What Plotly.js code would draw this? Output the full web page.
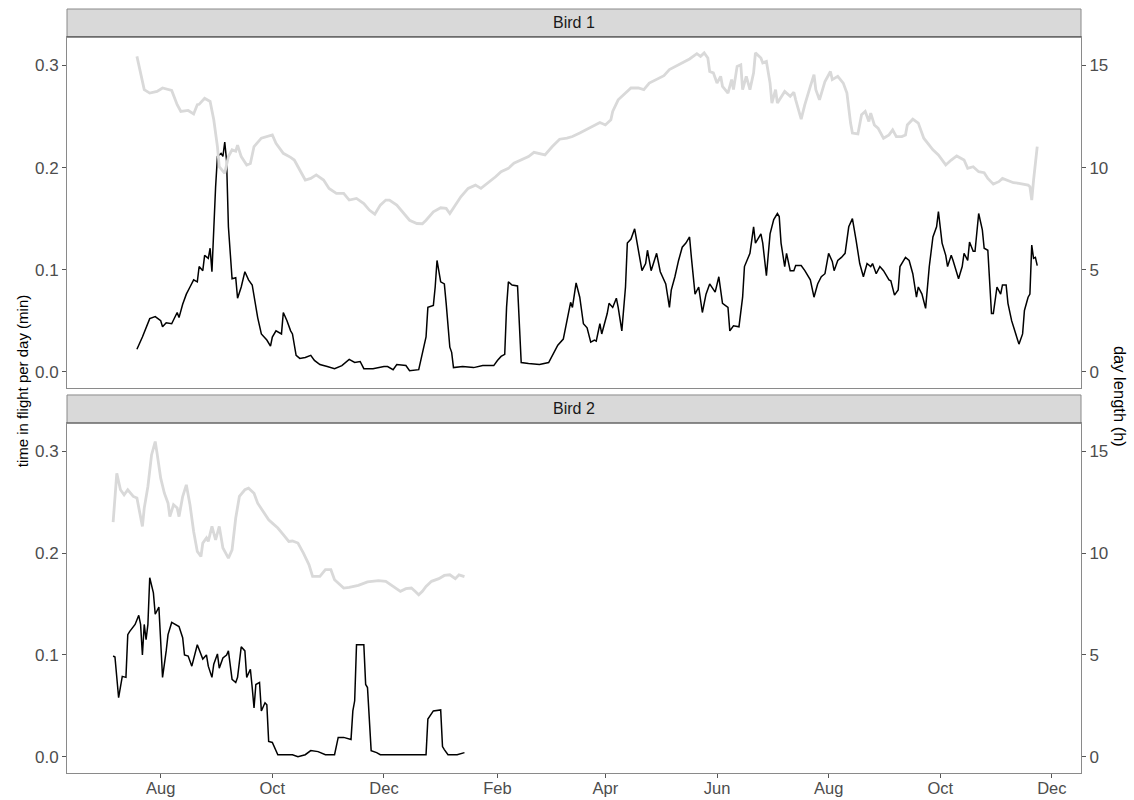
<!DOCTYPE html>
<html>
<head>
<meta charset="utf-8">
<script src="https://cdn.plot.ly/plotly-3.0.1.min.js"></script>
<style>html,body{margin:0;padding:0;background:#fff;}#chart{width:1134px;height:800px;}</style>
</head>
<body>
<div id="chart"></div>
<script>
// ---------- DATA ----------
const panelLabels = ["Bird 1", "Bird 2"];
const leftTitle = "time in flight per day (min)";
const rightTitle = "day length (h)";
const leftTicks = [0, 0.1, 0.2, 0.3];
const rightTicks = [0, 5, 10, 15];

// Bird 1 – time in flight per day (min)
const bird1FlightDates = ["2018-07-19","2018-07-22","2018-07-26","2018-07-29","2018-08-01","2018-08-02","2018-08-04","2018-08-07","2018-08-10","2018-08-11","2018-08-13","2018-08-15","2018-08-17","2018-08-19","2018-08-21","2018-08-22","2018-08-24","2018-08-25","2018-08-27","2018-08-28","2018-08-29","2018-08-30","2018-08-31","2018-09-01","2018-09-03","2018-09-04","2018-09-05","2018-09-06","2018-09-07","2018-09-09","2018-09-11","2018-09-12","2018-09-14","2018-09-16","2018-09-18","2018-09-20","2018-09-21","2018-09-23","2018-09-25","2018-09-28","2018-09-30","2018-10-01","2018-10-03","2018-10-06","2018-10-07","2018-10-09","2018-10-11","2018-10-12","2018-10-14","2018-10-16","2018-10-19","2018-10-22","2018-10-24","2018-10-27","2018-10-31","2018-11-04","2018-11-08","2018-11-12","2018-11-15","2018-11-18","2018-11-20","2018-11-25","2018-12-01","2018-12-03","2018-12-06","2018-12-08","2018-12-13","2018-12-15","2018-12-20","2018-12-22","2018-12-24","2018-12-25","2018-12-28","2018-12-29","2018-12-30","2019-01-01","2019-01-03","2019-01-04","2019-01-06","2019-01-07","2019-01-08","2019-01-13","2019-01-19","2019-01-24","2019-01-30","2019-02-01","2019-02-03","2019-02-05","2019-02-06","2019-02-07","2019-02-09","2019-02-12","2019-02-13","2019-02-14","2019-02-18","2019-02-24","2019-03-01","2019-03-03","2019-03-06","2019-03-09","2019-03-11","2019-03-13","2019-03-14","2019-03-16","2019-03-18","2019-03-20","2019-03-22","2019-03-24","2019-03-26","2019-03-27","2019-03-29","2019-03-30","2019-04-02","2019-04-03","2019-04-05","2019-04-07","2019-04-08","2019-04-10","2019-04-12","2019-04-13","2019-04-15","2019-04-17","2019-04-21","2019-04-23","2019-04-24","2019-04-26","2019-04-29","2019-05-01","2019-05-04","2019-05-06","2019-05-07","2019-05-09","2019-05-11","2019-05-13","2019-05-15","2019-05-17","2019-05-18","2019-05-20","2019-05-22","2019-05-24","2019-05-26","2019-05-28","2019-05-31","2019-06-02","2019-06-04","2019-06-07","2019-06-08","2019-06-10","2019-06-13","2019-06-15","2019-06-16","2019-06-19","2019-06-21","2019-06-22","2019-06-25","2019-06-26","2019-06-28","2019-06-30","2019-07-02","2019-07-04","2019-07-05","2019-07-06","2019-07-08","2019-07-09","2019-07-11","2019-07-13","2019-07-14","2019-07-17","2019-07-19","2019-07-22","2019-07-24","2019-07-26","2019-07-28","2019-07-30","2019-08-01","2019-08-03","2019-08-04","2019-08-06","2019-08-08","2019-08-10","2019-08-12","2019-08-14","2019-08-16","2019-08-18","2019-08-20","2019-08-22","2019-08-24","2019-08-25","2019-08-27","2019-08-29","2019-08-31","2019-09-03","2019-09-04","2019-09-06","2019-09-08","2019-09-09","2019-09-12","2019-09-14","2019-09-16","2019-09-18","2019-09-19","2019-09-21","2019-09-23","2019-09-25","2019-09-27","2019-09-29","2019-09-30","2019-10-02","2019-10-04","2019-10-05","2019-10-07","2019-10-08","2019-10-11","2019-10-13","2019-10-14","2019-10-16","2019-10-17","2019-10-19","2019-10-20","2019-10-22","2019-10-24","2019-10-25","2019-10-27","2019-10-29","2019-10-30","2019-11-01","2019-11-03","2019-11-04","2019-11-06","2019-11-07","2019-11-09","2019-11-11","2019-11-13","2019-11-15","2019-11-16","2019-11-18","2019-11-19","2019-11-20","2019-11-21","2019-11-22","2019-11-23"];
const bird1Flight = [0.022,0.034,0.052,0.054,0.050,0.044,0.048,0.047,0.058,0.053,0.066,0.076,0.083,0.090,0.088,0.103,0.099,0.114,0.111,0.121,0.098,0.148,0.181,0.211,0.214,0.211,0.225,0.207,0.142,0.091,0.092,0.072,0.083,0.098,0.090,0.085,0.073,0.053,0.037,0.031,0.025,0.034,0.040,0.037,0.058,0.050,0.040,0.037,0.016,0.013,0.014,0.016,0.011,0.007,0.005,0.003,0.006,0.012,0.009,0.010,0.003,0.003,0.005,0.005,0.002,0.007,0.006,0.001,0.002,0.017,0.034,0.063,0.065,0.083,0.109,0.088,0.086,0.067,0.024,0.019,0.004,0.005,0.004,0.006,0.006,0.011,0.015,0.017,0.063,0.088,0.085,0.084,0.047,0.009,0.008,0.007,0.009,0.016,0.026,0.032,0.050,0.068,0.063,0.087,0.073,0.047,0.043,0.029,0.031,0.030,0.047,0.037,0.057,0.067,0.063,0.072,0.063,0.040,0.083,0.126,0.130,0.140,0.099,0.106,0.119,0.099,0.116,0.098,0.086,0.063,0.080,0.093,0.109,0.122,0.126,0.132,0.112,0.076,0.083,0.058,0.076,0.086,0.078,0.093,0.067,0.063,0.040,0.045,0.044,0.073,0.103,0.116,0.142,0.126,0.135,0.126,0.094,0.135,0.149,0.155,0.152,0.126,0.103,0.116,0.099,0.099,0.104,0.104,0.099,0.090,0.073,0.086,0.093,0.096,0.116,0.108,0.099,0.109,0.112,0.116,0.142,0.150,0.129,0.106,0.093,0.106,0.103,0.106,0.096,0.103,0.099,0.090,0.089,0.075,0.080,0.103,0.112,0.109,0.096,0.073,0.083,0.076,0.062,0.103,0.132,0.142,0.157,0.126,0.114,0.103,0.114,0.109,0.091,0.103,0.116,0.109,0.127,0.118,0.118,0.155,0.139,0.121,0.119,0.057,0.057,0.083,0.076,0.085,0.085,0.067,0.050,0.039,0.027,0.037,0.060,0.073,0.076,0.124,0.111,0.112,0.104];

// Bird 1 – day length (h)
const bird1DayDates = ["2018-07-19","2018-07-23","2018-07-26","2018-07-30","2018-08-02","2018-08-07","2018-08-10","2018-08-12","2018-08-16","2018-08-19","2018-08-21","2018-08-22","2018-08-25","2018-08-28","2018-08-30","2018-09-01","2018-09-02","2018-09-05","2018-09-07","2018-09-09","2018-09-11","2018-09-12","2018-09-14","2018-09-17","2018-09-19","2018-09-21","2018-09-25","2018-09-28","2018-10-01","2018-10-03","2018-10-07","2018-10-11","2018-10-13","2018-10-16","2018-10-19","2018-10-22","2018-10-25","2018-10-29","2018-11-01","2018-11-05","2018-11-09","2018-11-12","2018-11-16","2018-11-20","2018-11-23","2018-11-26","2018-11-29","2018-12-02","2018-12-04","2018-12-08","2018-12-11","2018-12-15","2018-12-19","2018-12-22","2018-12-24","2018-12-28","2019-01-01","2019-01-04","2019-01-06","2019-01-09","2019-01-12","2019-01-16","2019-01-20","2019-01-23","2019-01-27","2019-01-31","2019-02-03","2019-02-07","2019-02-10","2019-02-14","2019-02-18","2019-02-21","2019-02-24","2019-02-27","2019-03-03","2019-03-07","2019-03-11","2019-03-14","2019-03-18","2019-03-22","2019-03-25","2019-03-29","2019-04-01","2019-04-04","2019-04-05","2019-04-08","2019-04-12","2019-04-15","2019-04-19","2019-04-22","2019-04-25","2019-04-29","2019-05-03","2019-05-06","2019-05-10","2019-05-14","2019-05-17","2019-05-21","2019-05-23","2019-05-25","2019-05-27","2019-05-28","2019-05-30","2019-06-01","2019-06-03","2019-06-04","2019-06-07","2019-06-09","2019-06-10","2019-06-12","2019-06-14","2019-06-15","2019-06-17","2019-06-19","2019-06-21","2019-06-22","2019-06-25","2019-06-26","2019-06-28","2019-06-30","2019-07-01","2019-07-03","2019-07-04","2019-07-08","2019-07-11","2019-07-13","2019-07-14","2019-07-17","2019-07-19","2019-07-22","2019-07-24","2019-07-25","2019-07-27","2019-07-30","2019-08-02","2019-08-03","2019-08-06","2019-08-09","2019-08-11","2019-08-13","2019-08-14","2019-08-17","2019-08-19","2019-08-21","2019-08-23","2019-08-24","2019-08-26","2019-08-28","2019-08-31","2019-09-03","2019-09-05","2019-09-07","2019-09-10","2019-09-12","2019-09-13","2019-09-16","2019-09-19","2019-09-22","2019-09-24","2019-09-27","2019-09-30","2019-10-04","2019-10-07","2019-10-10","2019-10-14","2019-10-16","2019-10-19","2019-10-22","2019-10-25","2019-10-27","2019-10-30","2019-11-02","2019-11-04","2019-11-07","2019-11-10","2019-11-13","2019-11-15","2019-11-18","2019-11-19","2019-11-20","2019-11-21","2019-11-22","2019-11-23"];
const bird1DayLength = [15.45,13.82,13.65,13.73,13.90,13.78,13.08,12.75,12.80,12.63,13.08,13.10,13.40,13.24,12.34,11.03,10.04,9.72,10.54,10.87,10.80,11.10,10.54,10.13,10.20,11.03,11.44,11.52,11.60,11.19,10.70,10.50,10.37,9.88,9.39,9.47,9.64,9.39,8.98,8.74,8.74,8.41,8.49,8.24,7.92,7.72,8.16,8.41,8.41,8.16,7.83,7.42,7.26,7.25,7.42,7.83,8.03,8.00,7.75,8.16,8.57,8.98,9.14,8.98,9.26,9.55,9.80,9.96,10.21,10.37,10.54,10.75,10.70,10.62,11.03,11.39,11.44,11.52,11.69,11.88,12.05,12.21,12.09,12.34,12.75,13.32,13.65,13.90,13.90,13.82,14.14,14.34,14.50,14.80,15.00,15.16,15.32,15.58,15.45,15.62,15.37,14.71,14.64,14.14,14.47,13.98,13.65,14.31,13.82,14.96,15.04,13.82,14.47,13.82,14.64,15.62,15.37,15.13,15.20,14.14,13.16,13.82,13.16,13.73,13.49,13.69,13.32,12.37,13.08,13.98,14.55,13.82,13.32,14.22,14.71,14.31,14.47,14.14,13.65,12.18,11.69,11.65,12.59,12.75,12.26,12.67,12.09,11.93,11.44,11.60,11.85,11.52,11.52,11.60,12.09,12.37,12.18,11.44,11.19,10.87,10.62,10.13,10.37,10.57,10.37,9.96,10.04,9.80,9.75,9.47,9.19,9.31,9.47,9.36,9.26,9.23,9.19,9.14,9.06,8.41,9.39,10.37,11.03];

// Bird 2 – time in flight per day (min)
const bird2FlightDates = ["2018-07-06","2018-07-07","2018-07-09","2018-07-10","2018-07-11","2018-07-13","2018-07-14","2018-07-15","2018-07-18","2018-07-20","2018-07-21","2018-07-22","2018-07-23","2018-07-24","2018-07-25","2018-07-26","2018-07-28","2018-07-29","2018-07-31","2018-08-01","2018-08-02","2018-08-04","2018-08-05","2018-08-07","2018-08-09","2018-08-11","2018-08-13","2018-08-14","2018-08-16","2018-08-18","2018-08-21","2018-08-22","2018-08-24","2018-08-26","2018-08-27","2018-08-29","2018-08-30","2018-09-01","2018-09-02","2018-09-04","2018-09-06","2018-09-07","2018-09-09","2018-09-11","2018-09-12","2018-09-14","2018-09-16","2018-09-17","2018-09-19","2018-09-20","2018-09-21","2018-09-22","2018-09-24","2018-09-25","2018-09-27","2018-09-28","2018-09-29","2018-10-01","2018-10-02","2018-10-04","2018-10-08","2018-10-12","2018-10-15","2018-10-19","2018-10-22","2018-10-26","2018-10-30","2018-11-04","2018-11-06","2018-11-09","2018-11-13","2018-11-14","2018-11-15","2018-11-16","2018-11-20","2018-11-21","2018-11-22","2018-11-24","2018-11-27","2018-11-29","2018-12-12","2018-12-24","2018-12-25","2018-12-28","2019-01-01","2019-01-02","2019-01-03","2019-01-05","2019-01-10","2019-01-14"];
const bird2Flight = [0.099,0.098,0.058,0.068,0.079,0.078,0.120,0.123,0.130,0.139,0.130,0.100,0.130,0.115,0.130,0.176,0.161,0.140,0.147,0.113,0.078,0.104,0.120,0.132,0.130,0.128,0.117,0.100,0.099,0.089,0.110,0.105,0.096,0.100,0.089,0.078,0.091,0.101,0.087,0.097,0.100,0.104,0.076,0.073,0.078,0.108,0.104,0.078,0.086,0.068,0.048,0.071,0.073,0.045,0.053,0.051,0.015,0.014,0.010,0.002,0.002,0.002,0.000,0.002,0.006,0.005,0.002,0.002,0.019,0.019,0.017,0.045,0.055,0.110,0.110,0.071,0.068,0.006,0.004,0.002,0.002,0.002,0.037,0.045,0.046,0.010,0.007,0.002,0.002,0.004];

// Bird 2 – day length (h)
const bird2DayDates = ["2018-07-06","2018-07-08","2018-07-10","2018-07-12","2018-07-14","2018-07-17","2018-07-19","2018-07-22","2018-07-23","2018-07-25","2018-07-27","2018-07-29","2018-07-30","2018-08-01","2018-08-03","2018-08-05","2018-08-06","2018-08-08","2018-08-10","2018-08-11","2018-08-13","2018-08-15","2018-08-17","2018-08-19","2018-08-21","2018-08-23","2018-08-24","2018-08-26","2018-08-27","2018-08-29","2018-08-31","2018-09-02","2018-09-04","2018-09-07","2018-09-09","2018-09-11","2018-09-13","2018-09-16","2018-09-18","2018-09-21","2018-09-23","2018-09-26","2018-09-29","2018-10-01","2018-10-04","2018-10-07","2018-10-10","2018-10-12","2018-10-15","2018-10-18","2018-10-21","2018-10-23","2018-10-27","2018-10-30","2018-11-02","2018-11-04","2018-11-07","2018-11-09","2018-11-12","2018-11-17","2018-11-22","2018-11-28","2018-12-02","2018-12-06","2018-12-10","2018-12-13","2018-12-16","2018-12-18","2018-12-20","2018-12-22","2018-12-24","2018-12-27","2018-12-31","2019-01-03","2019-01-06","2019-01-09","2019-01-11","2019-01-14"];
const bird2DayLength = [11.53,13.93,13.12,12.87,13.12,12.79,12.71,11.32,12.22,13.28,14.83,15.49,14.92,13.69,12.95,12.46,11.80,12.38,12.22,11.80,12.79,13.36,12.38,11.07,10.09,9.84,10.50,10.75,10.58,11.32,10.66,11.32,10.26,9.76,10.17,11.73,12.79,13.12,13.20,12.95,12.46,12.05,11.64,11.48,11.24,10.91,10.58,10.60,10.50,10.01,9.44,8.86,8.86,9.19,9.19,8.70,8.45,8.29,8.32,8.42,8.59,8.65,8.62,8.37,8.13,8.26,8.29,8.13,7.96,8.13,8.37,8.62,8.75,8.91,8.94,8.75,8.94,8.85];

// ---------- STYLE ----------
const FONT = "Liberation Sans, Arial, Helvetica, sans-serif";
const flightColor = "#000000";
const dayColor = "#d9d9d9";
const axisGrey = "#4d4d4d";
const borderGrey = "#8a8a8a";
const stripFill = "#d9d9d9";

const leftRange = [-0.016, 0.328];
const scaleFactor = 50; // day length (h) = 50 x time units
const rightRange = [leftRange[0] * scaleFactor, leftRange[1] * scaleFactor];
const xRange = ["2018-06-10 19:00", "2019-12-16 22:00"];

// paper domains
const dom1 = [0.5039, 0.9634]; // Bird 1 panel
const dom2 = [0.0, 0.4581];    // Bird 2 panel
const strip1 = [0.9634, 1.0];
const strip2 = [0.4581, 0.4948];

const traces = [
  {x: bird1DayDates, y: bird1DayLength, xaxis: "x2", yaxis: "y3", mode: "lines",
   line: {color: dayColor, width: 2.8}, hoverinfo: "skip", showlegend: false},
  {x: bird1FlightDates, y: bird1Flight, xaxis: "x2", yaxis: "y2", mode: "lines",
   line: {color: flightColor, width: 1.5}, showlegend: false},
  {x: bird2DayDates, y: bird2DayLength, xaxis: "x", yaxis: "y4", mode: "lines",
   line: {color: dayColor, width: 2.8}, hoverinfo: "skip", showlegend: false},
  {x: bird2FlightDates, y: bird2Flight, xaxis: "x", yaxis: "y", mode: "lines",
   line: {color: flightColor, width: 1.5}, showlegend: false}
];

const tickFont = {family: FONT, size: 17, color: axisGrey};
const xTickFont = {family: FONT, size: 16.5, color: axisGrey};

function leftAxis(domain) {
  return {domain: domain, range: leftRange, tickvals: leftTicks, tickformat: ".1f",
    ticks: "outside", ticklen: 4, tickcolor: "#555", tickwidth: 1,
    showgrid: false, zeroline: false, showline: true, mirror: true,
    linecolor: borderGrey, linewidth: 1, tickfont: tickFont, fixedrange: true};
}
function rightAxis(overlay, anchor) {
  return {overlaying: overlay, anchor: anchor, side: "right", range: rightRange,
    tickvals: rightTicks, ticks: "outside", ticklen: 4, tickcolor: "#555", tickwidth: 1,
    showgrid: false, zeroline: false, showline: false, tickfont: tickFont, fixedrange: true};
}

const layout = {
  width: 1134, height: 800,
  margin: {l: 67, r: 53, t: 9, b: 27},
  paper_bgcolor: "#ffffff", plot_bgcolor: "#ffffff",
  font: {family: FONT},
  showlegend: false,
  xaxis: {anchor: "y", range: xRange, type: "date", tick0: "2018-08-01", dtick: "M2",
    tickformat: "%b", ticks: "outside", ticklen: 4, tickcolor: "#555",
    ticklabelstandoff: -4,
    showgrid: false, zeroline: false, showline: true, mirror: true,
    linecolor: borderGrey, linewidth: 1, tickfont: xTickFont, fixedrange: true},
  xaxis2: {anchor: "y2", matches: "x", range: xRange, type: "date",
    showticklabels: false, ticks: "", showgrid: false, zeroline: false,
    showline: true, mirror: true, linecolor: borderGrey, linewidth: 1, fixedrange: true},
  yaxis: leftAxis(dom2),
  yaxis2: leftAxis(dom1),
  yaxis3: rightAxis("y2", "x2"),
  yaxis4: rightAxis("y", "x"),
  shapes: [
    {type: "rect", xref: "paper", yref: "paper", x0: 0, x1: 1, y0: strip1[0], y1: strip1[1],
     fillcolor: stripFill, line: {color: borderGrey, width: 1}, layer: "above"},
    {type: "line", xref: "paper", yref: "paper", x0: 0, x1: 1, y0: strip1[0], y1: strip1[0],
     line: {color: "#555555", width: 1.2}, layer: "above"},
    {type: "rect", xref: "paper", yref: "paper", x0: 0, x1: 1, y0: strip2[0], y1: strip2[1],
     fillcolor: stripFill, line: {color: borderGrey, width: 1}, layer: "above"},
    {type: "line", xref: "paper", yref: "paper", x0: 0, x1: 1, y0: strip2[0], y1: strip2[0],
     line: {color: "#555555", width: 1.2}, layer: "above"}
  ],
  annotations: [
    {text: panelLabels[0], xref: "paper", yref: "paper", x: 0.5, y: (strip1[0] + strip1[1]) / 2,
     xanchor: "center", yanchor: "middle", showarrow: false,
     font: {family: FONT, size: 16, color: "#1a1a1a"}},
    {text: panelLabels[1], xref: "paper", yref: "paper", x: 0.5, y: (strip2[0] + strip2[1]) / 2,
     xanchor: "center", yanchor: "middle", showarrow: false,
     font: {family: FONT, size: 16, color: "#1a1a1a"}},
    {text: leftTitle, xref: "paper", yref: "paper", x: -0.0444, y: 0.514,
     xanchor: "center", yanchor: "middle", textangle: -90, showarrow: false,
     font: {family: FONT, size: 15, color: "#000000"}},
    {text: rightTitle, xref: "paper", yref: "paper", x: 1.0385, y: 0.4935,
     xanchor: "center", yanchor: "middle", textangle: 90, showarrow: false,
     font: {family: FONT, size: 16.5, color: "#000000"}}
  ]
};

Plotly.newPlot("chart", traces, layout, {displayModeBar: false, staticPlot: true});
</script>
</body>
</html>
